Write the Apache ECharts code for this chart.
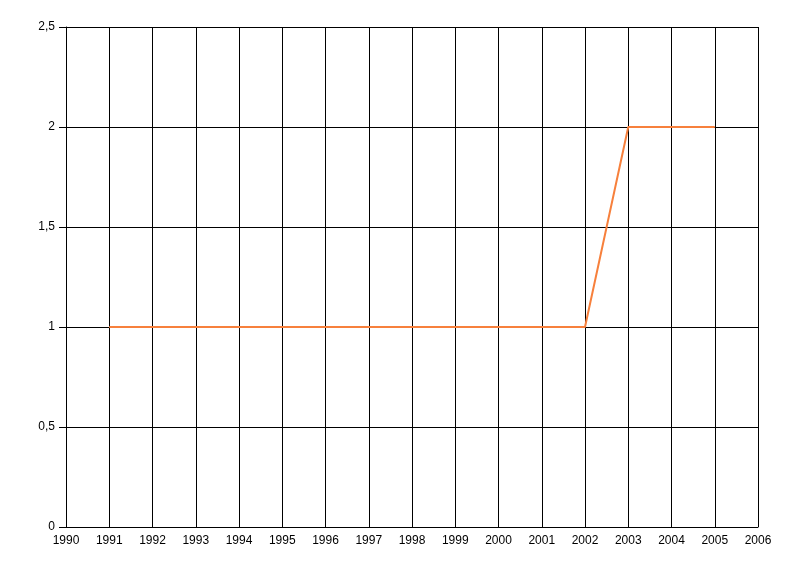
<!DOCTYPE html>
<html>
<head>
<meta charset="utf-8">
<script src="https://cdn.jsdelivr.net/npm/echarts@6/dist/echarts.min.js"></script>
<style>
  html, body { margin: 0; padding: 0; background: #fff; }
  #chart { width: 800px; height: 576px; }
</style>
</head>
<body>
<div id="chart"></div>
<script>
const years = [1991, 1992, 1993, 1994, 1995, 1996, 1997, 1998, 1999, 2000, 2001, 2002, 2003, 2004, 2005];
const values = [1, 1, 1, 1, 1, 1, 1, 1, 1, 1, 1, 1, 2, 2, 2];

const chart = echarts.init(document.getElementById('chart'));
const axisText = { color: '#000', fontFamily: 'Liberation Sans', fontSize: 12 };
chart.setOption({
  animation: false,
  grid: { left: 66, right: 42, top: 27, bottom: 49 },
  xAxis: {
    type: 'value',
    min: 1990,
    max: 2006,
    interval: 1,
    axisLine: { lineStyle: { color: '#000', width: 1 } },
    axisTick: { show: false },
    axisLabel: Object.assign({ margin: 8, formatter: v => String(v) }, axisText),
    splitLine: { show: true, lineStyle: { color: '#000', width: 1 } }
  },
  yAxis: {
    type: 'value',
    min: 0,
    max: 2.5,
    interval: 0.5,
    axisLine: { show: true, lineStyle: { color: '#000', width: 1 } },
    axisTick: { show: true, length: 7, lineStyle: { color: '#000' } },
    axisLabel: Object.assign({ margin: 11, formatter: v => String(v).replace('.', ',') }, axisText),
    splitLine: { show: true, lineStyle: { color: '#000', width: 1 } }
  },
  series: [{
    type: 'line',
    data: years.map((y, i) => [y, values[i]]),
    showSymbol: false,
    lineStyle: { color: '#f7803c', width: 2 },
    itemStyle: { color: '#f7803c' }
  }]
});
</script>
</body>
</html>
